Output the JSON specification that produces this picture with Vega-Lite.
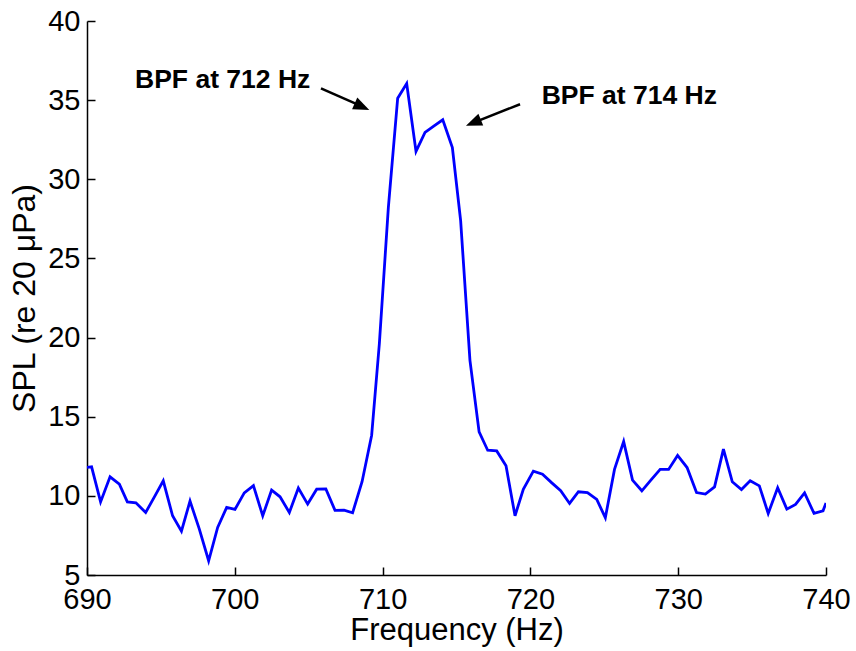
{
  "$schema": "https://vega.github.io/schema/vega-lite/v6.json",
  "autosize": {"type": "none"},
  "padding": {"left": 87, "top": 21, "right": 30, "bottom": 76},
  "width": 739,
  "height": 554,
  "background": "white",
  "config": {
    "view": {"stroke": null},
    "font": "Liberation Sans",
    "axis": {
      "grid": false,
      "domainColor": "black",
      "domainWidth": 1.5,
      "tickColor": "black",
      "tickWidth": 1.5,
      "tickSize": -8,
      "labelColor": "black",
      "labelFont": "Liberation Sans",
      "labelFontSize": 29,
      "titleFont": "Liberation Sans",
      "titleFontWeight": "normal",
      "titleColor": "black"
    }
  },
  "layer": [
    {
      "data": {"values": [
        {"f": 690.0, "spl": 11.8}, {"f": 690.31, "spl": 11.83}, {"f": 690.92, "spl": 9.62}, {"f": 691.56, "spl": 11.2},
        {"f": 692.19, "spl": 10.74}, {"f": 692.73, "spl": 9.62}, {"f": 693.31, "spl": 9.56}, {"f": 693.97, "spl": 8.95},
        {"f": 694.57, "spl": 9.95}, {"f": 695.16, "spl": 10.95}, {"f": 695.79, "spl": 8.74}, {"f": 696.39, "spl": 7.77},
        {"f": 696.97, "spl": 9.67}, {"f": 697.6, "spl": 7.9}, {"f": 698.23, "spl": 5.9}, {"f": 698.84, "spl": 8.01},
        {"f": 699.45, "spl": 9.27}, {"f": 700.01, "spl": 9.14}, {"f": 700.64, "spl": 10.19}, {"f": 701.26, "spl": 10.65},
        {"f": 701.89, "spl": 8.74}, {"f": 702.49, "spl": 10.36}, {"f": 703.06, "spl": 9.94}, {"f": 703.69, "spl": 8.95},
        {"f": 704.3, "spl": 10.49}, {"f": 704.93, "spl": 9.48}, {"f": 705.54, "spl": 10.42}, {"f": 706.16, "spl": 10.44},
        {"f": 706.78, "spl": 9.08}, {"f": 707.39, "spl": 9.1}, {"f": 707.97, "spl": 8.93}, {"f": 708.61, "spl": 10.89},
        {"f": 709.26, "spl": 13.83}, {"f": 709.78, "spl": 19.61}, {"f": 710.39, "spl": 28.23}, {"f": 711.02, "spl": 35.12},
        {"f": 711.63, "spl": 36.05}, {"f": 712.26, "spl": 31.76}, {"f": 712.87, "spl": 32.96}, {"f": 713.46, "spl": 33.36},
        {"f": 714.07, "spl": 33.76}, {"f": 714.72, "spl": 32.01}, {"f": 715.28, "spl": 27.39}, {"f": 715.91, "spl": 18.56},
        {"f": 716.53, "spl": 14.04}, {"f": 717.11, "spl": 12.88}, {"f": 717.72, "spl": 12.84}, {"f": 718.35, "spl": 11.9},
        {"f": 718.96, "spl": 8.74}, {"f": 719.52, "spl": 10.42}, {"f": 720.2, "spl": 11.56}, {"f": 720.82, "spl": 11.37},
        {"f": 721.45, "spl": 10.82}, {"f": 722.05, "spl": 10.32}, {"f": 722.65, "spl": 9.52}, {"f": 723.25, "spl": 10.26},
        {"f": 723.86, "spl": 10.21}, {"f": 724.49, "spl": 9.77}, {"f": 725.07, "spl": 8.62}, {"f": 725.69, "spl": 11.67},
        {"f": 726.31, "spl": 13.43}, {"f": 726.91, "spl": 10.99}, {"f": 727.54, "spl": 10.32}, {"f": 728.15, "spl": 10.99},
        {"f": 728.78, "spl": 11.67}, {"f": 729.35, "spl": 11.67}, {"f": 729.96, "spl": 12.55}, {"f": 730.6, "spl": 11.79},
        {"f": 731.24, "spl": 10.21}, {"f": 731.84, "spl": 10.11}, {"f": 732.46, "spl": 10.57}, {"f": 733.06, "spl": 12.95},
        {"f": 733.66, "spl": 10.89}, {"f": 734.28, "spl": 10.4}, {"f": 734.87, "spl": 10.95}, {"f": 735.49, "spl": 10.63},
        {"f": 736.09, "spl": 8.89}, {"f": 736.73, "spl": 10.51}, {"f": 737.35, "spl": 9.16}, {"f": 737.94, "spl": 9.46},
        {"f": 738.55, "spl": 10.19}, {"f": 739.19, "spl": 8.89}, {"f": 739.8, "spl": 9.06}, {"f": 740.0, "spl": 9.55}
      ]},
      "mark": {"type": "line", "color": "#0000FF", "strokeWidth": 2.8, "clip": true},
      "encoding": {
        "x": {
          "field": "f", "type": "quantitative",
          "scale": {"domain": [690, 740], "nice": false, "zero": false},
          "axis": {"values": [690, 700, 710, 720, 730, 740], "title": "Frequency (Hz)", "titleFontSize": 31, "labelPadding": 18, "titlePadding": 1, "labelFlush": false}
        },
        "y": {
          "field": "spl", "type": "quantitative",
          "scale": {"domain": [5, 40], "nice": false, "zero": false},
          "axis": {"values": [5, 10, 15, 20, 25, 30, 35, 40], "title": "SPL (re 20 μPa)", "titleFontSize": 32, "labelPadding": 15, "titlePadding": 6, "labelFlush": false}
        }
      }
    },
    {
      "data": {"values": [
        {"f": 705.83, "spl": 35.75, "f2": 708.6, "spl2": 34.6},
        {"f": 719.3, "spl": 34.74, "f2": 716.2, "spl2": 33.6}
      ]},
      "mark": {"type": "rule", "color": "black", "strokeWidth": 2.5},
      "encoding": {
        "x": {"field": "f", "type": "quantitative"},
        "y": {"field": "spl", "type": "quantitative"},
        "x2": {"field": "f2"},
        "y2": {"field": "spl2"}
      }
    },
    {
      "data": {"values": [{"f": 709.1, "spl": 34.38}]},
      "mark": {"type": "point", "shape": "M0,0L-2,-0.8L-2,0.8Z", "filled": true, "color": "black", "opacity": 1, "size": 256, "angle": 24},
      "encoding": {
        "x": {"field": "f", "type": "quantitative"},
        "y": {"field": "spl", "type": "quantitative"}
      }
    },
    {
      "data": {"values": [{"f": 715.64, "spl": 33.39}]},
      "mark": {"type": "point", "shape": "M0,0L-2,-0.8L-2,0.8Z", "filled": true, "color": "black", "opacity": 1, "size": 256, "angle": 158},
      "encoding": {
        "x": {"field": "f", "type": "quantitative"},
        "y": {"field": "spl", "type": "quantitative"}
      }
    },
    {
      "data": {"values": [
        {"f": 693.25, "spl": 35.79, "label": "BPF at 712 Hz"},
        {"f": 720.76, "spl": 34.74, "label": "BPF at 714 Hz"}
      ]},
      "mark": {"type": "text", "align": "left", "baseline": "alphabetic", "font": "Liberation Sans", "fontSize": 26.5, "fontWeight": "bold", "color": "black"},
      "encoding": {
        "x": {"field": "f", "type": "quantitative"},
        "y": {"field": "spl", "type": "quantitative"},
        "text": {"field": "label"}
      }
    }
  ]
}
